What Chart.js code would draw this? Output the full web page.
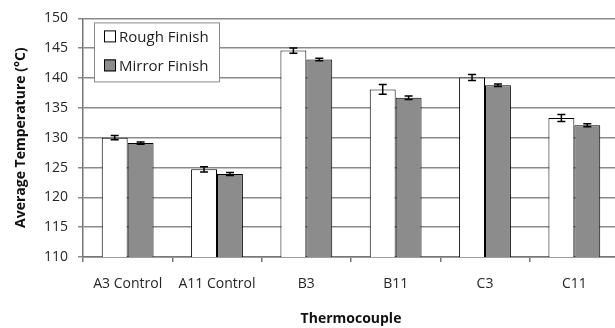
<!DOCTYPE html>
<html>
<head>
<meta charset="utf-8">
<script src="https://cdn.jsdelivr.net/npm/chart.js@4/dist/chart.umd.min.js"></script>
<style>
  html, body { margin: 0; padding: 0; background: #fff; overflow: hidden; }
  #wrap { width: 620px; height: 328px; }
</style>
</head>
<body>
<div id="wrap"><canvas id="grafica"></canvas></div>
<script>
// Datos
const categorias = ['A3 Control', 'A11 Control', 'B3', 'B11', 'C3', 'C11'];
const rugoso = [130.0, 124.7, 144.6, 138.1, 140.1, 133.3];
const rugosoErr = [0.35, 0.45, 0.45, 0.8, 0.5, 0.6];
const espejo = [129.1, 123.9, 143.1, 136.7, 138.8, 132.1];
const espejoErr = [0.2, 0.25, 0.2, 0.3, 0.2, 0.25];
const ticksY = [110, 115, 120, 125, 130, 135, 140, 145, 150];

const fuente = '"Open Sans", Lato, sans-serif';
const gris = '#8c8c8c';

// barras de error
const errores = {
  id: 'errores',
  afterDatasetsDraw(chart) {
    const ctx = chart.ctx;
    const y = chart.scales.y;
    const errs = [rugosoErr, espejoErr];
    ctx.save();
    ctx.strokeStyle = '#000';
    ctx.lineWidth = 1.5;
    chart.data.datasets.forEach((ds, i) => {
      chart.getDatasetMeta(i).data.forEach((bar, j) => {
        const v = ds.data[j], e = errs[i][j];
        const y1 = y.getPixelForValue(v + e), y2 = y.getPixelForValue(v - e);
        ctx.beginPath();
        ctx.moveTo(bar.x, y1); ctx.lineTo(bar.x, y2);
        ctx.moveTo(bar.x - 4, y1); ctx.lineTo(bar.x + 4, y1);
        ctx.moveTo(bar.x - 4, y2); ctx.lineTo(bar.x + 4, y2);
        ctx.stroke();
      });
    });
    ctx.restore();
  }
};

// leyenda con recuadro dentro del área
const leyenda = {
  id: 'leyenda',
  afterDraw(chart) {
    const ctx = chart.ctx;
    const a = chart.chartArea;
    const x0 = a.left + 11, y0 = a.top + 4;
    ctx.save();
    ctx.fillStyle = '#fff';
    ctx.fillRect(x0, y0, 125, 59);
    ctx.strokeStyle = '#8a8a8a';
    ctx.lineWidth = 1;
    ctx.strokeRect(x0 + 0.5, y0 + 0.5, 125, 59);
    ctx.font = '15px ' + fuente;
    ctx.textBaseline = 'middle';
    chart.data.datasets.forEach((ds, i) => {
      const cy = y0 + 14 + i * 29;
      ctx.fillStyle = ds.backgroundColor;
      ctx.fillRect(x0 + 10, cy - 6, 12, 12);
      ctx.strokeStyle = '#000';
      ctx.strokeRect(x0 + 10.5, cy - 5.5, 11, 11);
      ctx.fillStyle = '#222';
      ctx.fillText(ds.label, x0 + 25, cy + 1);
    });
    ctx.restore();
  }
};

new Chart(document.getElementById('grafica'), {
  type: 'bar',
  data: {
    labels: categorias,
    datasets: [
      { label: 'Rough Finish', data: rugoso, backgroundColor: '#ffffff', borderColor: '#000', borderWidth: 1 },
      { label: 'Mirror Finish', data: espejo, backgroundColor: gris, borderColor: '#000', borderWidth: 1 }
    ]
  },
  options: {
    responsive: true,
    maintainAspectRatio: false,
    animation: false,
    layout: { padding: { top: 15, right: 1 } },
    datasets: { bar: { categoryPercentage: 0.58, barPercentage: 1.0 } },
    plugins: {
      legend: { display: false },
      tooltip: { enabled: false }
    },
    scales: {
      x: {
        afterFit: s => { s.height = 71; },
        grid: { drawOnChartArea: false, offset: true, tickLength: 5, color: '#777', lineWidth: 1.5 },
        border: { color: '#777', width: 1.5 },
        ticks: { color: '#262626', font: { family: fuente, size: 14 }, padding: 14 },
        title: { display: true, text: 'Thermocouple', color: '#111', font: { family: fuente, size: 14, weight: 'bold' }, padding: { top: 4, bottom: 1 } }
      },
      y: {
        min: 110, max: 150,
        afterFit: s => { s.width = 83; },
        afterBuildTicks: s => { s.ticks = ticksY.map(v => ({ value: v })); },
        grid: { color: '#8a8a8a', lineWidth: 1.5, tickLength: 5 },
        border: { color: '#777', width: 1.5 },
        ticks: { color: '#262626', font: { family: fuente, size: 14 }, padding: 10 },
        title: { display: true, text: 'Average Temperature (°C)', color: '#111', font: { family: fuente, size: 14, weight: 'bold' }, padding: { top: 13, bottom: 0 } }
      }
    }
  },
  plugins: [errores, leyenda]
});
</script>
</body>
</html>
